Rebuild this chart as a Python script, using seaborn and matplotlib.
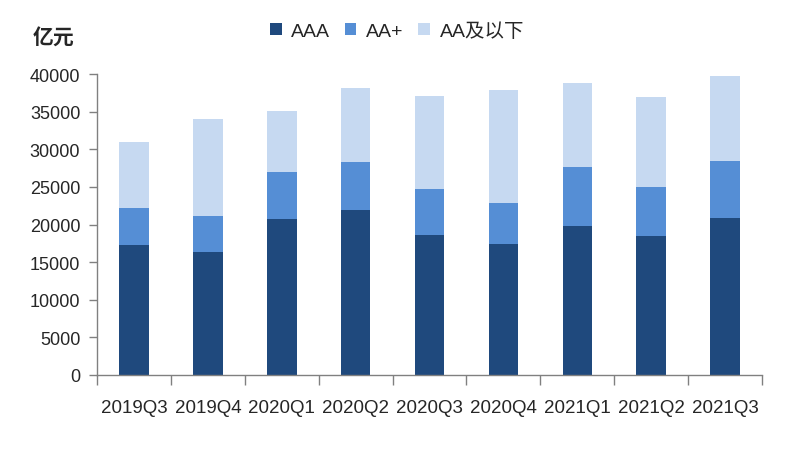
import numpy as np
import pandas as pd
import matplotlib
matplotlib.use("Agg")
import matplotlib.pyplot as plt
import seaborn as sns
from matplotlib.patches import Patch

quarters = ["2019Q3", "2019Q4", "2020Q1", "2020Q2", "2020Q3", "2020Q4", "2021Q1", "2021Q2", "2021Q3"]
aaa = [17280, 16350, 20730, 21930, 18600, 17410, 19800, 18470, 20860]
aa_plus = [4910, 4780, 6250, 6380, 6120, 5450, 7840, 6510, 7580]
aa_below = [8770, 12890, 8100, 9830, 12360, 15010, 11160, 11960, 11290]
series_names = ["AAA", "AA+", "AA及以下"]
colors = ["#1F497D", "#558ED5", "#C6D9F1"]

sns.set_theme(style="white")
plt.rcParams['font.family'] = ['Liberation Sans', 'Noto Sans CJK SC', 'DejaVu Sans']

fig = plt.figure(figsize=(7.85, 4.6), dpi=100)
ax = fig.add_axes([97/785, 1-376/460, (762-97)/785, (376-75)/460])

df = pd.DataFrame({"q": quarters, "AAA": aaa, "AA+": aa_plus, "AA及以下": aa_below})
bottoms = np.zeros(len(quarters))
for name, col in zip(series_names, colors):
    sns.barplot(data=df, x="q", y=name, color=col, width=0.4, bottom=bottoms,
                ax=ax, saturation=1, linewidth=0)
    bottoms = bottoms + df[name].values

ax.set_ylim(0, 40000)
ax.set_xlim(-0.5, len(quarters) - 0.5)
ax.set_yticks(np.arange(0, 40001, 5000))
ax.set_yticklabels([str(v) for v in range(0, 40001, 5000)], fontsize=13)
ax.set_xlabel("")
ax.set_ylabel("")

# x ticks at category boundaries, labels centered
ax.set_xticks(np.arange(len(quarters)))
ax.set_xticklabels(quarters, fontsize=13.5)
ax.tick_params(axis='x', which='major', bottom=True, length=0, pad=17)
ax.set_xticks(np.arange(-0.5, len(quarters)), minor=True)
ax.tick_params(axis='x', which='minor', bottom=True, length=7, color="#808080", width=1, direction='out')
ax.tick_params(axis='y', which='major', left=True, length=6, color="#808080", width=1, direction='out', pad=6)

for s in ["top", "right"]:
    ax.spines[s].set_visible(False)
for s in ["left", "bottom"]:
    ax.spines[s].set_color("#808080")
    ax.spines[s].set_linewidth(1)

fig.text(33/785, 1-38/460, "亿元", fontsize=15, fontweight="bold",
         family=['Noto Sans CJK SC', 'DejaVu Sans'], va="center", ha="left")

handles = [Patch(facecolor=c, edgecolor="none", label=n) for n, c in zip(series_names, colors)]
fig.legend(handles=handles, loc="center", bbox_to_anchor=(397/785, 1-32/460), ncol=3,
           frameon=False, handlelength=0.6, handleheight=0.6,
           handletextpad=0.5, columnspacing=0.75,
           prop={'family': ['Liberation Sans', 'Noto Sans CJK SC'], 'size': 14})

fig.savefig("out.png", dpi=100)
